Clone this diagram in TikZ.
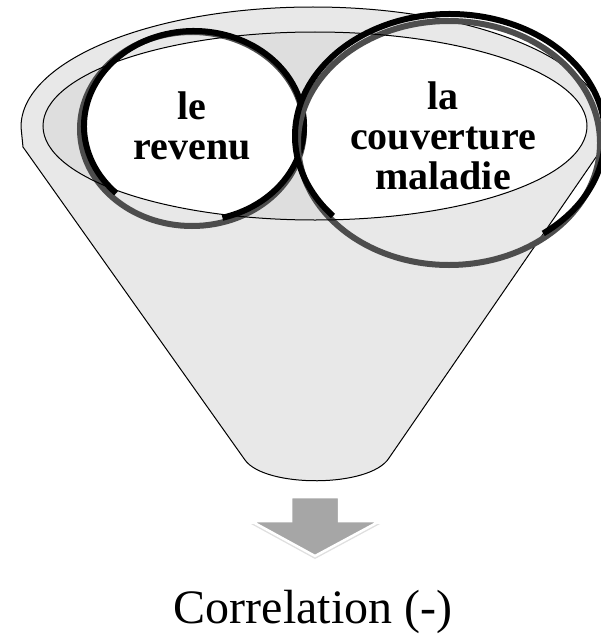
\documentclass[tikz,border=0pt]{standalone}
\usepackage{fontspec}
\setmainfont{Liberation Serif}
\usepackage{xcolor}
\definecolor{fungray}{RGB}{232,232,232}
\definecolor{rimgray}{RGB}{222,222,222}
\definecolor{ringgray}{RGB}{77,77,77}
\definecolor{arrowgray}{RGB}{166,166,166}
\usepackage{tikz}
\usetikzlibrary{shadows}

\begin{document}
\begin{tikzpicture}[x=1pt, y=-1pt,
  blackring/.style={draw=black, line width=6pt},
  grayring/.style={draw=ringgray, line width=6pt},
  circtext/.style={font=\fontsize{40}{40}\selectfont\bfseries, align=center, inner sep=0pt}]
  \useasboundingbox (0,0) rectangle (601,634);

  % Funnel body
  \draw[fill=fungray, line width=1pt, line join=round]
    (21,127) arc[start angle=180, end angle=360, x radius=292, y radius=120]
    -- (603,147) -- (389,458) .. controls (370,488) and (265,488) .. (245,460)
    -- (23,147) -- cycle;

  % Rim
  \fill[rimgray] (315,126) ellipse[x radius=272, y radius=94];
  \begin{scope}
    \clip (315,126) ellipse[x radius=272, y radius=94];
    \fill[white] (194,126) ellipse[x radius=110, y radius=95];
    \fill[white] (450,136) ellipse[x radius=155, y radius=122];
  \end{scope}

  % Circle -- le revenu
  \draw[grayring] (192,129) ellipse[x radius=112, y radius=97];
  \draw[blackring] (194,126) ++(-285:110 and 95)
    arc[start angle=-285, end angle=-585, x radius=110, y radius=95];

  % Circle -- la couverture maladie
  \draw[grayring] (449,143) ellipse[x radius=151, y radius=122];
  \draw[blackring] (450,136) ++(-307:155 and 122)
    arc[start angle=-307, end angle=-581, x radius=155, y radius=122];

  % Rim outline
  \draw[line width=1pt] (315,126) ellipse[x radius=272, y radius=94];

  % Labels
  \node[circtext] (revenu) at (192,126) {le\\revenu};
  \node[circtext] (couverture) at (443,136) {la\\couverture\\maladie};

  % Arrow
  \draw[fill=arrowgray, draw=white, line width=2.5pt, line join=miter,
        drop shadow={shadow xshift=0pt, shadow yshift=-3pt, opacity=.25}]
    (291,497) -- (339,497) -- (339,521) -- (380,521) -- (315,556)
    -- (251,521) -- (291,521) -- cycle;

  % Result
  \node[font=\fontsize{48}{48}\selectfont, anchor=base] (corr) at (313,623) {Correlation (-)};
\end{tikzpicture}
\end{document}
